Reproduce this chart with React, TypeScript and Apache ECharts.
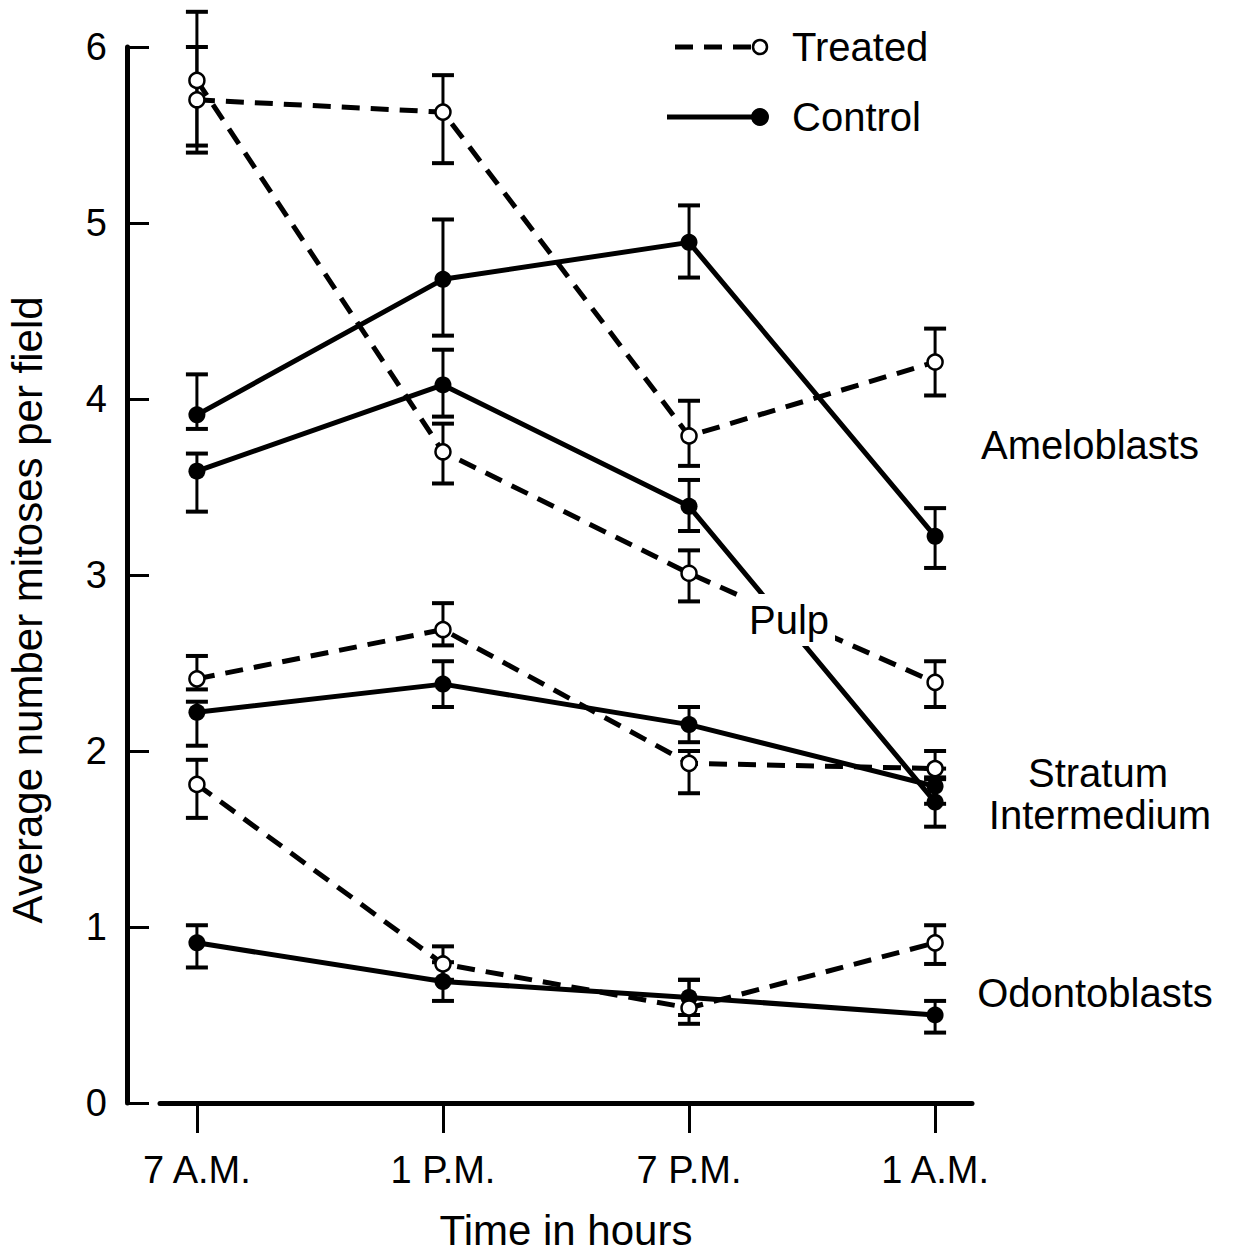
import React, { useEffect, useRef } from "react";
import * as echarts from "echarts";

// ---- Data ----
const timeLabels = ["7 A.M.", "1 P.M.", "7 P.M.", "1 A.M."];
const yTicks = [0, 1, 2, 3, 4, 5, 6];

// Ameloblasts
const ameloTreated = [5.7, 5.63, 3.79, 4.21];
const ameloTreatedHi = [6.0, 5.84, 3.99, 4.4];
const ameloTreatedLo = [5.4, 5.34, 3.62, 4.02];
const ameloControl = [3.91, 4.68, 4.89, 3.22];
const ameloControlHi = [4.14, 5.02, 5.1, 3.38];
const ameloControlLo = [3.83, 4.36, 4.69, 3.04];

// Pulp
const pulpTreated = [5.81, 3.7, 3.01, 2.39];
const pulpTreatedHi = [6.2, 3.86, 3.14, 2.51];
const pulpTreatedLo = [5.44, 3.52, 2.85, 2.25];
const pulpControl = [3.59, 4.08, 3.39, 1.71];
const pulpControlHi = [3.69, 4.28, 3.54, 1.85];
const pulpControlLo = [3.36, 3.9, 3.25, 1.57];

// Stratum intermedium
const siTreated = [2.41, 2.69, 1.93, 1.9];
const siTreatedHi = [2.54, 2.84, 2.0, 2.0];
const siTreatedLo = [2.35, 2.6, 1.76, 1.84];
const siControl = [2.22, 2.38, 2.15, 1.8];
const siControlHi = [2.28, 2.51, 2.25, 1.9];
const siControlLo = [2.03, 2.25, 2.05, 1.7];

// Odontoblasts
const odontoTreated = [1.81, 0.79, 0.54, 0.91];
const odontoTreatedHi = [1.95, 0.89, 0.7, 1.01];
const odontoTreatedLo = [1.62, 0.7, 0.45, 0.79];
const odontoControl = [0.91, 0.69, 0.6, 0.5];
const odontoControlHi = [1.01, 0.8, 0.7, 0.58];
const odontoControlLo = [0.77, 0.58, 0.5, 0.4];

const FONT = "'Liberation Sans', Arial, Helvetica, sans-serif";

type Group = { name: string; treated: boolean; v: number[]; hi: number[]; lo: number[] };

const groups: Group[] = [
  { name: "Ameloblasts Treated", treated: true, v: ameloTreated, hi: ameloTreatedHi, lo: ameloTreatedLo },
  { name: "Ameloblasts Control", treated: false, v: ameloControl, hi: ameloControlHi, lo: ameloControlLo },
  { name: "Pulp Treated", treated: true, v: pulpTreated, hi: pulpTreatedHi, lo: pulpTreatedLo },
  { name: "Pulp Control", treated: false, v: pulpControl, hi: pulpControlHi, lo: pulpControlLo },
  { name: "Stratum Intermedium Treated", treated: true, v: siTreated, hi: siTreatedHi, lo: siTreatedLo },
  { name: "Stratum Intermedium Control", treated: false, v: siControl, hi: siControlHi, lo: siControlLo },
  { name: "Odontoblasts Treated", treated: true, v: odontoTreated, hi: odontoTreatedHi, lo: odontoTreatedLo },
  { name: "Odontoblasts Control", treated: false, v: odontoControl, hi: odontoControlHi, lo: odontoControlLo },
];

function errorBarRender(params: any, api: any) {
  const x = api.value(0);
  const lo = api.coord([x, api.value(1)]);
  const hi = api.coord([x, api.value(2)]);
  const w = 11;
  const style = { stroke: "#000", lineWidth: 3 };
  const capStyle = { stroke: "#000", lineWidth: 4 };
  return {
    type: "group",
    children: [
      { type: "line", shape: { x1: lo[0], y1: lo[1], x2: hi[0], y2: hi[1] }, style },
      { type: "line", shape: { x1: lo[0] - w, y1: lo[1], x2: lo[0] + w, y2: lo[1] }, style: capStyle },
      { type: "line", shape: { x1: hi[0] - w, y1: hi[1], x2: hi[0] + w, y2: hi[1] }, style: capStyle },
    ],
  };
}

export default function App() {
  const ref = useRef<HTMLDivElement>(null);

  useEffect(() => {
    if (!ref.current) return;
    const chart = echarts.init(ref.current, undefined, { renderer: "svg" });

    const series: any[] = [];
    groups.forEach((g) => {
      series.push({
        name: g.name + " error",
        type: "custom",
        renderItem: errorBarRender,
        clip: false,
        z: 1,
        encode: { x: 0, y: [1, 2] },
        data: g.v.map((_, i) => [i, g.lo[i], g.hi[i]]),
        silent: true,
      });
    });
    groups.forEach((g) => {
      series.push({
        name: g.name,
        type: "line",
        z: g.treated ? 3 : 2,
        clip: false,
        data: g.v.map((val, i) => [i, val]),
        symbol: "circle",
        symbolSize: g.treated ? 15 : 17,
        showSymbol: true,
        lineStyle: {
          color: "#000",
          width: 5,
          type: g.treated ? [18, 11] : "solid",
        },
        itemStyle: g.treated
          ? { color: "#fff", borderColor: "#000", borderWidth: 2.5 }
          : { color: "#000", borderColor: "#000", borderWidth: 0 },
      });
    });

    const textStyle = (size: number) => ({
      fill: "#000",
      font: `${size}px ${FONT}`,
    });

    const option: any = {
      animation: false,
      backgroundColor: "#fff",
      textStyle: { fontFamily: FONT, color: "#000" },
      grid: { left: 160, right: 265, top: 47, bottom: 151, containLabel: false },
      xAxis: {
        type: "value",
        min: -0.15,
        max: 3.15,
        splitLine: { show: false },
        axisLine: { show: true, onZero: false, lineStyle: { color: "#000", width: 5 } },
        axisTick: {
          show: true,
          customValues: [0, 1, 2, 3],
          length: 30,
          inside: false,
          lineStyle: { color: "#000", width: 3 },
        },
        axisLabel: {
          show: true,
          customValues: [0, 1, 2, 3],
          formatter: (v: number) => timeLabels[Math.round(v)] ?? "",
          margin: 48,
          fontSize: 38,
          color: "#000",
          fontFamily: FONT,
        },
        name: "Time in hours",
        nameLocation: "middle",
        nameGap: 106,
        nameTextStyle: { fontSize: 42, color: "#000", fontFamily: FONT },
      },
      yAxis: {
        type: "value",
        min: yTicks[0],
        max: yTicks[yTicks.length - 1],
        interval: 1,
        offset: 33,
        splitLine: { show: false },
        axisLine: { show: true, onZero: false, lineStyle: { color: "#000", width: 5 } },
        axisTick: { show: true, inside: true, length: 22, lineStyle: { color: "#000", width: 3 } },
        axisLabel: { fontSize: 38, margin: 20, color: "#000", fontFamily: FONT },
      },
      graphic: [
        {
          type: "text",
          x: 27,
          y: 610,
          rotation: Math.PI / 2,
          style: {
            text: "Average number mitoses per field",
            ...textStyle(42),
            textAlign: "center",
            textVerticalAlign: "middle",
          },
        },
        // legend
        {
          type: "line",
          shape: { x1: 675, y1: 47, x2: 752, y2: 47 },
          style: { stroke: "#000", lineWidth: 5, lineDash: [18, 11] },
        },
        {
          type: "circle",
          shape: { cx: 760, cy: 47, r: 7 },
          style: { fill: "#fff", stroke: "#000", lineWidth: 2.5 },
        },
        {
          type: "text",
          x: 792,
          y: 47,
          style: { text: "Treated", ...textStyle(40), textAlign: "left", textVerticalAlign: "middle" },
        },
        {
          type: "line",
          shape: { x1: 667, y1: 117, x2: 758, y2: 117 },
          style: { stroke: "#000", lineWidth: 5 },
        },
        {
          type: "circle",
          shape: { cx: 760, cy: 117, r: 9 },
          style: { fill: "#000", stroke: "#000", lineWidth: 0 },
        },
        {
          type: "text",
          x: 792,
          y: 117,
          style: { text: "Control", ...textStyle(40), textAlign: "left", textVerticalAlign: "middle" },
        },
        // tissue labels
        {
          type: "text",
          x: 1090,
          y: 445,
          style: { text: "Ameloblasts", ...textStyle(40), textAlign: "center", textVerticalAlign: "middle" },
        },
        {
          type: "text",
          x: 789,
          y: 620,
          z: 100,
          style: {
            text: "Pulp",
            ...textStyle(40),
            textAlign: "center",
            textVerticalAlign: "middle",
            backgroundColor: "#fff",
            padding: [6, 6, 6, 6],
          },
        },
        {
          type: "text",
          x: 1098,
          y: 773,
          style: { text: "Stratum", ...textStyle(40), textAlign: "center", textVerticalAlign: "middle" },
        },
        {
          type: "text",
          x: 1100,
          y: 815,
          style: { text: "Intermedium", ...textStyle(40), textAlign: "center", textVerticalAlign: "middle" },
        },
        {
          type: "text",
          x: 1095,
          y: 993,
          style: { text: "Odontoblasts", ...textStyle(40), textAlign: "center", textVerticalAlign: "middle" },
        },
      ],
      series,
    };

    chart.setOption(option);
    return () => chart.dispose();
  }, []);

  return (
    <div
      ref={ref}
      style={{ position: "absolute", left: 0, top: 0, width: 1237, height: 1256, background: "#fff" }}
    />
  );
}
